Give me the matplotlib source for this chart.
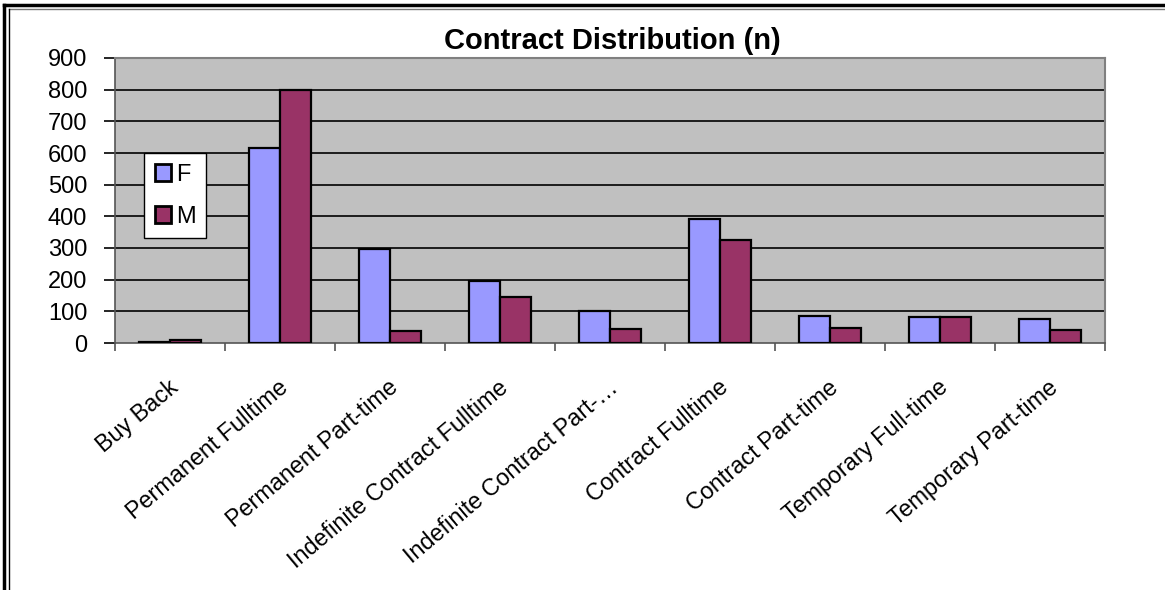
import matplotlib
matplotlib.use("Agg")
import matplotlib.pyplot as plt
from matplotlib.lines import Line2D
from matplotlib.transforms import ScaledTranslation
import numpy as np

categories = ["Buy Back", "Permanent Fulltime", "Permanent Part-time",
              "Indefinite Contract Fulltime", "Indefinite Contract Part-…",
              "Contract Fulltime", "Contract Part-time",
              "Temporary Full-time", "Temporary Part-time"]
female = [2, 617, 298, 196, 101, 393, 85, 81, 77]
male = [10, 800, 39, 144, 45, 324, 48, 81, 40]
yticks = [0, 100, 200, 300, 400, 500, 600, 700, 800, 900]

plt.rcParams['font.family'] = ['Liberation Sans', 'DejaVu Sans']

fig = plt.figure(figsize=(11.65, 5.9), dpi=100)
ax = fig.add_axes([115/1165, 1-343/590, 990/1165, 285/590])
ax.set_facecolor('#C0C0C0')

x = np.arange(len(categories))
w = 0.285
ax.bar(x - w/2, female, w, color='#9999FF', edgecolor='black', linewidth=1.6, label='F', zorder=3)
ax.bar(x + w/2, male, w, color='#993366', edgecolor='black', linewidth=1.6, label='M', zorder=3)

ax.set_xlim(-0.5, len(categories) - 0.5)
ax.set_ylim(0, 900)
ax.set_yticks(yticks)
ax.set_yticklabels([str(v) for v in yticks], fontsize=17)
for v in yticks[1:-1]:
    ax.axhline(v, color='black', linewidth=1.2, zorder=1)

ax.set_xticks(x)
ax.set_xticklabels(categories, rotation=40, ha='right', va='center',
                   rotation_mode='anchor', fontsize=16.8)
ax.tick_params(axis='x', which='major', length=0, pad=30)
off = ScaledTranslation(5/100, 0, fig.dpi_scale_trans)
for lab in ax.get_xticklabels():
    lab.set_transform(lab.get_transform() + off)
ax.set_xticks(np.arange(len(categories) + 1) - 0.5, minor=True)
ax.tick_params(axis='x', which='minor', length=6, width=1.2, color='#555555', direction='out')
ax.tick_params(axis='y', length=8, width=1.2, color='black', direction='out', pad=12)

for s in ['top', 'right']:
    ax.spines[s].set_color('#808080')
    ax.spines[s].set_linewidth(1.5)
ax.spines['left'].set_color('#555555')
ax.spines['bottom'].set_color('#555555')
ax.spines['left'].set_linewidth(1.2)
ax.spines['bottom'].set_linewidth(1.2)

fig.text(612/1165, 1-41/590, "Contract Distribution (n)", ha='center', va='center',
         fontsize=21, fontweight='bold')

leg = ax.legend(loc='upper left', bbox_to_anchor=((144-115)/990, (343-153)/285),
                fontsize=17, frameon=True, fancybox=False, edgecolor='black',
                framealpha=1, handlelength=0.7, handleheight=0.7, labelspacing=0.85,
                borderpad=0.45, handletextpad=0.2, borderaxespad=0)
leg.get_frame().set_linewidth(1.0)
for h in leg.legend_handles:
    h.set_linewidth(2.0)

# outer frame (double line on top and left)
fig.add_artist(Line2D([4/1165, 1], [1-5/590, 1-5/590], color='black', linewidth=2.5, transform=fig.transFigure))
fig.add_artist(Line2D([9/1165, 1], [1-8.5/590, 1-8.5/590], color='#777777', linewidth=1.0, transform=fig.transFigure))
fig.add_artist(Line2D([4/1165, 4/1165], [0, 1-5/590], color='black', linewidth=2.5, transform=fig.transFigure))
fig.add_artist(Line2D([9/1165, 9/1165], [0, 1-8.5/590], color='black', linewidth=1.0, transform=fig.transFigure))

fig.savefig("out.png", dpi=100)
